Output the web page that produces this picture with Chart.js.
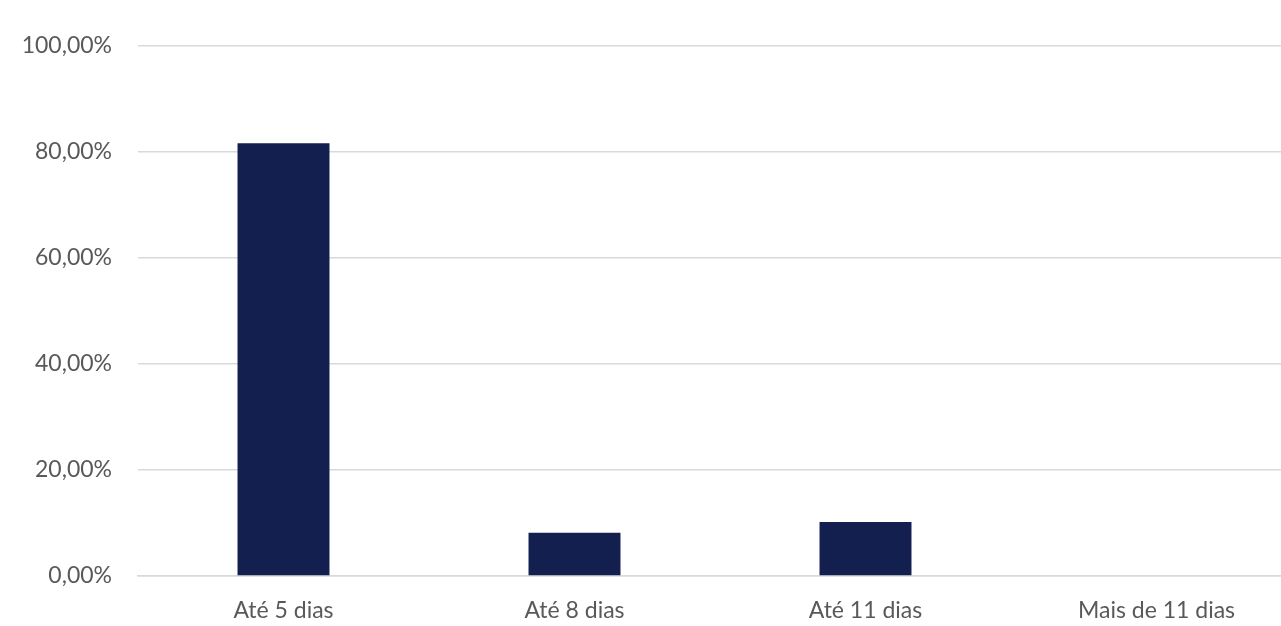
<!DOCTYPE html>
<html>
<head>
<meta charset="utf-8">
<script src="https://cdn.jsdelivr.net/npm/chart.js@4"></script>
<style>
  html, body { margin: 0; padding: 0; background: #ffffff; overflow: hidden; }
  #wrap { width: 1304px; height: 626px; position: relative; }
</style>
</head>
<body>
<div id="wrap"><canvas id="c"></canvas></div>
<script>
const categories = ["Até 5 dias", "Até 8 dias", "Até 11 dias", "Mais de 11 dias"];
const values = [81.63, 8.16, 10.2, 0];
const yTicks = [0, 20, 40, 60, 80, 100];

const fontFamily = "Lato, 'Open Sans', sans-serif";

new Chart(document.getElementById('c'), {
  type: 'bar',
  data: {
    labels: categories,
    datasets: [{
      data: values,
      backgroundColor: '#131F4F',
      borderWidth: 0,
      categoryPercentage: 1.0,
      barPercentage: 0.316
    }]
  },
  options: {
    responsive: true,
    maintainAspectRatio: false,
    animation: false,
    devicePixelRatio: 1,
    layout: { padding: { top: 46, right: 2, left: 0, bottom: 0 } },
    plugins: { legend: { display: false }, tooltip: { enabled: false } },
    scales: {
      x: {
        grid: { display: false, drawTicks: false },
        border: { display: true, color: '#D9D9D9', width: 1.5 },
        ticks: {
          color: '#595959',
          font: { family: fontFamily, size: 23 },
          padding: 21,
          maxRotation: 0
        },
        afterFit: (s) => { s.height = 50; }
      },
      y: {
        min: 0,
        max: 100,
        afterBuildTicks: (s) => { s.ticks = yTicks.map(v => ({ value: v })); },
        grid: { color: '#D9D9D9', lineWidth: 1.5, drawTicks: false },
        border: { display: false },
        ticks: {
          color: '#595959',
          font: { family: fontFamily, size: 23 },
          padding: 26,
          callback: (v) => v.toFixed(2).replace('.', ',') + '%'
        },
        afterFit: (s) => { s.width = 138; }
      }
    }
  }
});
</script>
</body>
</html>
